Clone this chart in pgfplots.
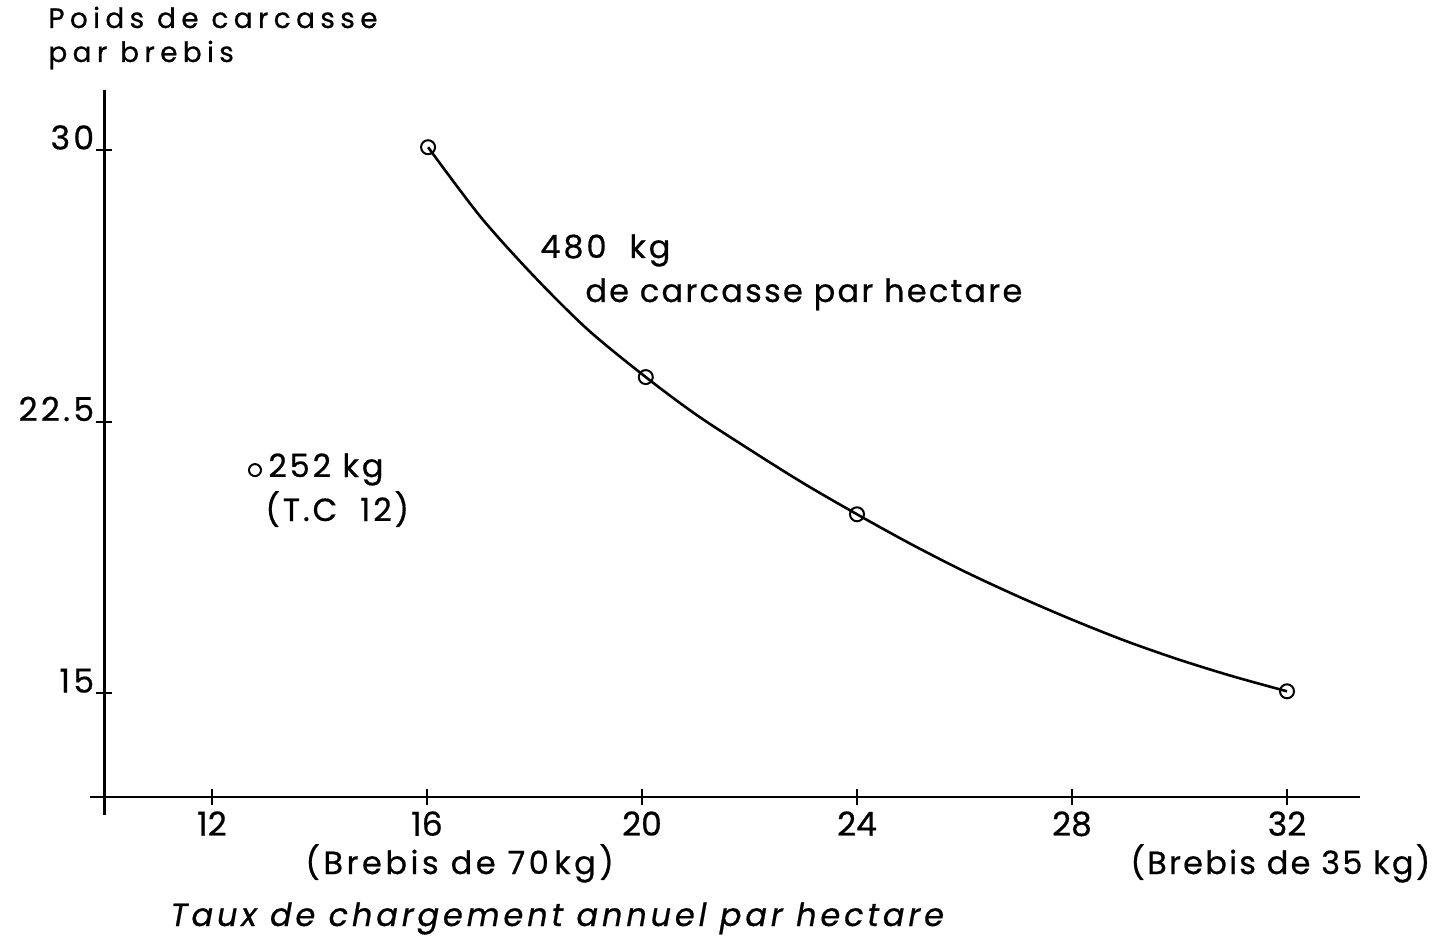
\documentclass[border=0pt]{standalone}
\usepackage{fontspec}
\setmainfont{Poppins}
\newfontfamily\ttl[LetterSpace=19, FakeBold=0.6]{Poppins}
\newfontfamily\lbl[LetterSpace=9, FakeBold=0.6]{Poppins}
\newfontfamily\ylbl[LetterSpace=10, FakeBold=0.6]{Poppins}
\newfontfamily\xlbl[FakeBold=0.6]{Poppins}
\usepackage{pgfplots}
\pgfplotsset{compat=1.18}
\begin{document}
\begin{tikzpicture}[x=1pt,y=1pt]
\useasboundingbox (0,0) rectangle (723,469.5);
\begin{axis}[
  at={(52.25pt,71pt)}, anchor=south west,
  x=26.875pt, y=18.1pt,
  xmin=10, xmax=33.36, ymin=12.13, ymax=31.66,
  axis x line*=bottom, axis y line*=left,
  axis line style={-, line width=1.35pt, black},
  xtick={12,16,20,24,28,32}, xticklabels={12,16,20,24,28,32},
  ytick={15,22.5,30}, yticklabels={15,22.5,30},
  tick align=center, major tick length=8pt,
  tick style={line width=1pt, black},
  /pgf/number format/assume math mode=true,
  xticklabel style={font=\xlbl\fontsize{16.5}{16.5}\selectfont, anchor=north, inner sep=0pt, yshift=-3pt},
  yticklabel style={font=\ylbl\fontsize{16.5}{16.5}\selectfont, anchor=south east, inner sep=0pt, xshift=-1pt},
  clip=false,
]
\addplot[black, line width=1.3pt, smooth, mark=o, mark size=3.5pt,
  mark options={fill=white, line width=1pt, solid}, mark indices={1,5,9,17}]
  coordinates {(16.02,30.08) (17,28.15) (18,26.5) (19,25.03) (20.07,23.73) (21,22.70)
    (22,21.73) (23,20.80) (24.0,19.94) (25,19.12) (26,18.36) (27,17.67) (28,17.03)
    (29,16.44) (30,15.92) (31,15.46) (32.0,15.05)};
\addplot[only marks, mark=o, mark size=3pt, mark options={fill=white, line width=1pt, black}]
  coordinates {(12.80,21.16)};
\draw[line width=1.35pt] (axis cs:10,12.13) -- (axis cs:10,11.63);
\draw[line width=1.35pt] (axis cs:10,12.13) -- (axis cs:9.73,12.13);
\end{axis}
\begin{scope}[every node/.style={inner sep=0pt, anchor=base west}]
\node[font=\ttl\fontsize{14}{14}\selectfont] at (24,455.5) {Poids de carcasse};
\node[font=\ttl\fontsize{14}{14}\selectfont] at (24,438.5) {par brebis};
\node[font=\lbl\fontsize{16}{16}\selectfont] at (270,340.5) {480\ \ kg};
\node[font=\lbl\addfontfeatures{LetterSpace=7}\fontsize{16}{16}\selectfont] at (292.5,318.5) {de carcasse\ par hectare};
\node[font=\lbl\fontsize{16}{16}\selectfont] at (134,231) {252 kg};
\node[font=\lbl\fontsize{16}{16}\selectfont] at (132.5,209) {(T.C\ \ 12)};
\node[font=\lbl\addfontfeatures{LetterSpace=11}\fontsize{16}{16}\selectfont] at (152.5,32.5) {(Brebis de 70\,kg)};
\node[font=\lbl\addfontfeatures{LetterSpace=7}\fontsize{16}{16}\selectfont] at (565,32.5) {(Brebis\ de 35 kg)};
\node[font=\lbl\itshape\addfontfeatures{LetterSpace=12}\fontsize{16}{16}\selectfont] at (85,6.5) {Taux de chargement annuel par hectare};
\end{scope}
\end{tikzpicture}
\end{document}
